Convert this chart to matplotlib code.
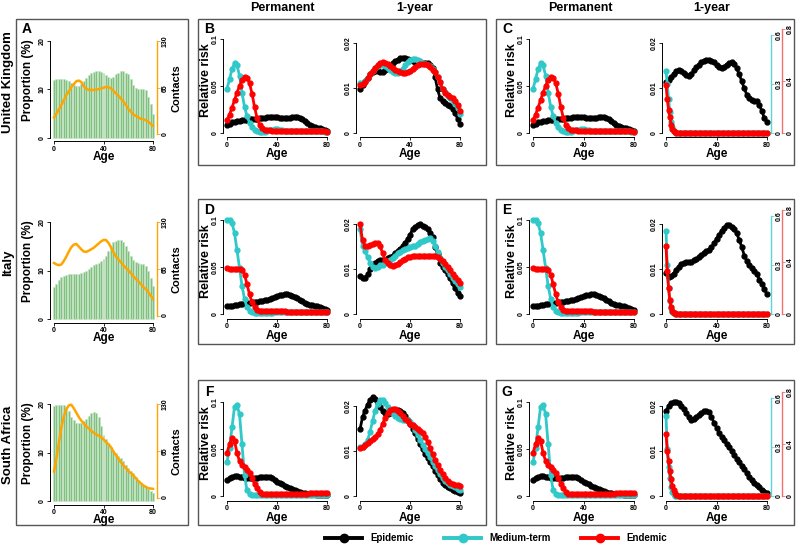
import matplotlib
matplotlib.use('Agg')
import matplotlib.pyplot as plt
from matplotlib.lines import Line2D
from matplotlib.patches import Rectangle

plt.rcParams['font.family'] = ['Liberation Sans', 'DejaVu Sans']

# ---- data ----
ages = list(range(0, 81, 2))
ages_fast = [0, 1, 2, 3, 4, 5, 6, 7, 8] + list(range(10, 81, 2))

countries = ['United Kingdom', 'Italy', 'South Africa']
columns = ['Permanent', '1-year', 'Permanent', '1-year']
series_names = ['Epidemic', 'Medium-term', 'Endemic']

# panel A: population proportion (%) and contacts
prop_uk = [12.0, 12.1, 12.1, 12.1, 12.1, 12.0, 11.7, 11.3, 11.0, 10.7, 10.8, 11.2, 11.7, 12.3, 12.9, 13.4, 13.7, 13.9, 13.9, 13.7,
           13.4, 13.0, 12.6, 12.4, 12.6, 13.1, 13.5, 13.8, 13.8, 13.5, 13.1, 12.2, 11.0, 10.3, 10.0, 10.0, 10.2, 9.9, 8.5, 7.0, 5.0]
prop_it = [6.6, 7.3, 8.0, 8.6, 8.9, 9.1, 9.2, 9.2, 9.2, 9.2, 9.2, 9.4, 9.6, 9.9, 10.3, 10.8, 11.1, 11.4, 11.6, 11.9,
           12.3, 13.0, 14.0, 15.0, 15.8, 16.1, 16.3, 16.2, 15.8, 15.0, 14.0, 13.0, 12.2, 11.8, 11.5, 11.4, 11.3, 11.0, 10.0, 8.5, 6.9]
prop_sa = [19.5, 19.7, 19.8, 19.8, 19.7, 19.3, 18.5, 17.4, 16.6, 16.1, 16.0, 16.1, 16.4, 16.9, 17.5, 18.1, 18.3, 18.1, 17.3, 15.5,
           13.6, 12.8, 11.9, 11.1, 10.4, 9.8, 9.3, 8.8, 8.2, 7.5, 6.8, 6.2, 5.7, 5.0, 4.4, 3.7, 3.3, 2.9, 2.5, 2.1, 1.7]
contacts_uk = [23.6, 29, 35, 41, 48, 55, 60, 66, 70, 74, 75, 73, 67, 64, 62, 62, 62, 62.5, 63, 64,
               65, 66, 66, 64, 61, 57, 54, 50, 46, 41, 36, 32, 28, 26, 24, 22, 21, 20, 18, 15, 12]
contacts_it = [73, 71, 70, 71, 76, 82, 89, 95, 98.5, 99.5, 96, 92, 89, 88.5, 90, 92, 94, 97, 100, 103,
               105, 105, 101, 95, 88, 82, 78, 74, 70, 66, 63, 59, 55, 51, 48, 44, 40, 37, 33, 28, 23]
contacts_sa = [36, 55, 77, 98, 113, 123, 128, 129, 124, 118, 112, 107, 103, 99, 96, 93, 90, 88, 86, 84,
               81, 77, 74, 70, 64, 59, 54, 49, 45, 41, 37, 34, 31, 27, 23, 20, 17, 15, 13, 12.5, 12]

# permanent immunity (same in B/C, D/E, F/G)
perm_uk_epi = [0.009, 0.010, 0.0115, 0.012, 0.0125, 0.013, 0.0135, 0.014, 0.014, 0.0145, 0.0145, 0.015, 0.015, 0.0155, 0.016, 0.016, 0.0165, 0.017, 0.017, 0.017,
               0.0165, 0.016, 0.016, 0.0155, 0.0155, 0.016, 0.0165, 0.0165, 0.0165, 0.016, 0.015, 0.013, 0.011, 0.009, 0.0075, 0.0065, 0.0058, 0.0052, 0.0045, 0.0035, 0.002]
perm_uk_med = [0.047, 0.057, 0.068, 0.074, 0.072, 0.061, 0.043, 0.028, 0.018, 0.011, 0.006, 0.003, 0.002, 0.0015, 0.0015, 0.0015, 0.002, 0.003, 0.0035, 0.004,
               0.004, 0.0035, 0.003, 0.0025, 0.002, 0.002, 0.002, 0.002, 0.002, 0.002, 0.002, 0.002, 0.002, 0.002, 0.002, 0.0018, 0.0018, 0.0017, 0.0016, 0.0015, 0.0015]
perm_uk_end = [0.0135, 0.0195, 0.027, 0.035, 0.043, 0.050, 0.056, 0.0595, 0.059, 0.053, 0.042, 0.028, 0.016, 0.009, 0.005, 0.0035, 0.003, 0.0028, 0.0026, 0.0025,
               0.0025, 0.0024, 0.0024, 0.0023, 0.0023, 0.0022, 0.0022, 0.0021, 0.0021, 0.002, 0.002, 0.002, 0.0019, 0.0019, 0.0018, 0.0018, 0.0017, 0.0017, 0.0016, 0.0016, 0.0015]
perm_it_epi = [0.008, 0.0085, 0.009, 0.0095, 0.010, 0.0105, 0.011, 0.0115, 0.012, 0.012, 0.0125, 0.013, 0.013, 0.0135, 0.014, 0.0145, 0.015, 0.016, 0.017, 0.018,
               0.019, 0.020, 0.0205, 0.021, 0.021, 0.0205, 0.0195, 0.0185, 0.017, 0.015, 0.0135, 0.012, 0.011, 0.010, 0.0095, 0.009, 0.008, 0.007, 0.006, 0.005, 0.004]
perm_it_med = [0.1, 0.1, 0.097, 0.086, 0.068, 0.049, 0.030, 0.016, 0.007, 0.0035, 0.002, 0.0015, 0.0013, 0.0012, 0.0012, 0.0012, 0.0013, 0.0014, 0.0015, 0.0016,
               0.0017, 0.0018, 0.0018, 0.0018, 0.0018, 0.0018, 0.0018, 0.0018, 0.0018, 0.0018, 0.0018, 0.0018, 0.0018, 0.0018, 0.0018, 0.0018, 0.0018, 0.0018, 0.0018, 0.0018, 0.0018]
perm_it_end = [0.049, 0.048, 0.0475, 0.0475, 0.048, 0.0475, 0.0467, 0.042, 0.0316, 0.021, 0.0123, 0.007, 0.0046, 0.0035, 0.003, 0.003, 0.003, 0.003, 0.003, 0.003,
               0.003, 0.0029, 0.0028, 0.0027, 0.0026, 0.0025, 0.0025, 0.0024, 0.0024, 0.0023, 0.0023, 0.0022, 0.0022, 0.0021, 0.0021, 0.002, 0.002, 0.002, 0.002, 0.002, 0.002]
perm_sa_epi = [0.017, 0.0188, 0.0205, 0.021, 0.021, 0.0205, 0.020, 0.019, 0.0188, 0.0188, 0.019, 0.0192, 0.0195, 0.0197, 0.020, 0.0202, 0.0205, 0.020, 0.0188, 0.017,
               0.015, 0.0136, 0.0123, 0.011, 0.0097, 0.0085, 0.0072, 0.0063, 0.0054, 0.0045, 0.0036, 0.003, 0.0025, 0.0021, 0.0018, 0.0016, 0.0015, 0.0013, 0.0012, 0.0011, 0.001]
perm_sa_med = [0.0357, 0.051, 0.073, 0.095, 0.097, 0.087, 0.055, 0.022, 0.006, 0.0018, 0.001, 0.001, 0.001, 0.001, 0.001, 0.001, 0.001, 0.001, 0.001, 0.001,
               0.001, 0.001, 0.0011, 0.0011, 0.0012, 0.0012, 0.0013, 0.0013, 0.0014, 0.0014, 0.0015, 0.0015, 0.0015, 0.0015, 0.0015, 0.0015, 0.0015, 0.0015, 0.0015, 0.0015, 0.0015]
perm_sa_end = [0.046, 0.055, 0.062, 0.0585, 0.046, 0.037, 0.033, 0.031, 0.028, 0.024, 0.019, 0.013, 0.008, 0.0043, 0.0025, 0.002, 0.002, 0.002, 0.002, 0.002,
               0.002, 0.002, 0.002, 0.0021, 0.0021, 0.0022, 0.0022, 0.0023, 0.0023, 0.0024, 0.0025, 0.0025, 0.0026, 0.0027, 0.0028, 0.0028, 0.0029, 0.003, 0.003, 0.003, 0.003]

# 1-year immunity (B, D, F)
yr_uk_epi = [0.0098, 0.0106, 0.0115, 0.0123, 0.013, 0.0135, 0.0138, 0.0137, 0.0135, 0.0136, 0.014, 0.0145, 0.015, 0.0155, 0.016, 0.0163, 0.0166, 0.0167, 0.0167, 0.0165,
             0.0162, 0.016, 0.0158, 0.0156, 0.0155, 0.0155, 0.0156, 0.0155, 0.0152, 0.0145, 0.0125, 0.0098, 0.0078, 0.007, 0.0066, 0.0063, 0.006, 0.0053, 0.0045, 0.0032, 0.002]
yr_uk_med = [0.0111, 0.0112, 0.0116, 0.0123, 0.013, 0.0138, 0.0145, 0.0149, 0.015, 0.015, 0.0148, 0.0144, 0.014, 0.0135, 0.0133, 0.0133, 0.0137, 0.0143, 0.015, 0.0157,
             0.0162, 0.0165, 0.0165, 0.0162, 0.016, 0.0156, 0.0153, 0.015, 0.0148, 0.0143, 0.0135, 0.0125, 0.0113, 0.0098, 0.009, 0.0083, 0.0078, 0.0072, 0.0065, 0.0055, 0.0042]
yr_uk_end = [0.0107, 0.0108, 0.0114, 0.0122, 0.013, 0.0138, 0.0145, 0.0151, 0.0155, 0.0157, 0.0156, 0.0153, 0.0149, 0.0144, 0.014, 0.0137, 0.0135, 0.0133, 0.0133, 0.0135,
             0.0138, 0.0142, 0.0147, 0.0151, 0.0154, 0.0154, 0.0153, 0.015, 0.0146, 0.0141, 0.0135, 0.0125, 0.0113, 0.0098, 0.0089, 0.0084, 0.0081, 0.0078, 0.0072, 0.0062, 0.0048]
yr_it_epi = [0.0085, 0.0079, 0.008, 0.0088, 0.0099, 0.0108, 0.0114, 0.0118, 0.0119, 0.012, 0.0121, 0.0124, 0.0127, 0.013, 0.0135, 0.014, 0.0145, 0.0151, 0.0158, 0.0167,
             0.0176, 0.0188, 0.0194, 0.0198, 0.02, 0.0196, 0.0193, 0.0188, 0.018, 0.0172, 0.015, 0.0133, 0.0114, 0.0105, 0.0098, 0.0088, 0.0079, 0.0068, 0.0057, 0.0047, 0.004]
yr_it_med = [0.0189, 0.0151, 0.014, 0.0127, 0.0114, 0.0104, 0.0103, 0.0105, 0.0108, 0.011, 0.0113, 0.0115, 0.012, 0.0125, 0.013, 0.0135, 0.0138, 0.0142, 0.0145, 0.0147,
             0.0149, 0.0151, 0.0152, 0.0156, 0.0159, 0.0163, 0.0165, 0.0167, 0.0168, 0.0163, 0.0151, 0.0138, 0.0125, 0.0114, 0.0105, 0.0098, 0.009, 0.0081, 0.0074, 0.0066, 0.0059]
yr_it_end = [0.02, 0.0164, 0.0151, 0.0151, 0.0153, 0.0156, 0.0158, 0.0157, 0.0151, 0.0136, 0.0121, 0.0113, 0.0108, 0.0107, 0.0108, 0.0112, 0.0115, 0.0119, 0.0123, 0.0126,
             0.0127, 0.0129, 0.0129, 0.0129, 0.0129, 0.0129, 0.0129, 0.0129, 0.013, 0.013, 0.0129, 0.0126, 0.0123, 0.0118, 0.0112, 0.0105, 0.0098, 0.009, 0.0083, 0.0076, 0.007]
yr_sa_epi = [0.0148, 0.0175, 0.019, 0.0203, 0.0214, 0.0219, 0.0216, 0.0207, 0.0197, 0.0189, 0.0185, 0.0183, 0.0184, 0.0186, 0.0189, 0.0191, 0.0189, 0.0184, 0.0178, 0.0169,
             0.016, 0.015, 0.0139, 0.0127, 0.0116, 0.0104, 0.0093, 0.0085, 0.0076, 0.0066, 0.0056, 0.0047, 0.0038, 0.003, 0.0025, 0.0021, 0.0018, 0.0014, 0.0011, 0.0009, 0.0007]
yr_sa_med = [0.011, 0.011, 0.0115, 0.0124, 0.0142, 0.0166, 0.0189, 0.0205, 0.0214, 0.0214, 0.0206, 0.0197, 0.019, 0.0184, 0.0178, 0.0174, 0.0171, 0.017, 0.0169, 0.0168,
             0.0165, 0.0158, 0.0146, 0.0135, 0.0125, 0.0114, 0.0104, 0.0095, 0.0086, 0.0076, 0.0066, 0.0057, 0.0048, 0.004, 0.0034, 0.0029, 0.0025, 0.0022, 0.0019, 0.0016, 0.0014]
yr_sa_end = [0.0106, 0.0108, 0.0114, 0.0118, 0.0122, 0.0126, 0.0131, 0.0137, 0.0146, 0.016, 0.0173, 0.0184, 0.0191, 0.0194, 0.0193, 0.019, 0.0185, 0.0178, 0.0171, 0.0166,
             0.0161, 0.0158, 0.0154, 0.015, 0.0145, 0.0139, 0.0131, 0.0121, 0.0107, 0.0093, 0.0081, 0.0068, 0.0058, 0.0048, 0.004, 0.0034, 0.003, 0.0027, 0.0025, 0.0024, 0.0023]

# 1-year immunity, second scenario (C, E, G): epidemic on left axis
yr2_uk_epi = [0.0114, 0.0118, 0.0124, 0.0132, 0.0137, 0.0139, 0.0138, 0.0134, 0.0128, 0.0127, 0.0131, 0.0139, 0.0146, 0.0152, 0.0157, 0.016, 0.0163, 0.0163, 0.0161, 0.0157,
              0.0152, 0.0147, 0.0144, 0.0147, 0.0152, 0.0156, 0.0157, 0.0153, 0.0144, 0.013, 0.0115, 0.0099, 0.0085, 0.0078, 0.0074, 0.0072, 0.007, 0.0062, 0.0048, 0.0033, 0.0024]
yr2_it_epi = [0.0092, 0.0082, 0.0084, 0.009, 0.0098, 0.0105, 0.0111, 0.0114, 0.0116, 0.0116, 0.0116, 0.0119, 0.0122, 0.0126, 0.0131, 0.0135, 0.0139, 0.0143, 0.0148, 0.0157,
              0.0167, 0.0176, 0.0185, 0.0192, 0.0198, 0.0197, 0.0194, 0.0188, 0.0179, 0.0165, 0.0149, 0.013, 0.0117, 0.0109, 0.0103, 0.0096, 0.0088, 0.0076, 0.0066, 0.0055, 0.0044]
yr2_sa_epi = [0.0189, 0.0199, 0.0206, 0.0209, 0.0209, 0.0206, 0.02, 0.0193, 0.0184, 0.0175, 0.017, 0.0171, 0.0175, 0.018, 0.0184, 0.0188, 0.0189, 0.0186, 0.0176, 0.0163,
              0.0152, 0.0141, 0.0132, 0.0124, 0.0116, 0.0108, 0.01, 0.0092, 0.0083, 0.0075, 0.0067, 0.0059, 0.0051, 0.0043, 0.0036, 0.003, 0.0024, 0.0019, 0.0014, 0.001, 0.0007]
# medium-term (right axis 0-0.6) and endemic (right axis 0-0.8), on ages_fast
yr2_uk_med = [0.38, 0.30, 0.21, 0.13, 0.07, 0.035, 0.015, 0.006, 0.002, 0.001, 0, 0, 0, 0, 0, 0, 0, 0, 0, 0, 0, 0, 0,
              0, 0, 0, 0, 0, 0, 0, 0, 0, 0, 0, 0, 0, 0, 0, 0, 0, 0, 0, 0, 0, 0]
yr2_uk_end = [0.37, 0.26, 0.18, 0.12, 0.065, 0.03, 0.012, 0.005, 0.002, 0.001, 0, 0, 0, 0, 0, 0, 0, 0, 0, 0, 0, 0, 0,
              0, 0, 0, 0, 0, 0, 0, 0, 0, 0, 0, 0, 0, 0, 0, 0, 0, 0, 0, 0, 0, 0]
yr2_it_med = [0.51, 0.30, 0.16, 0.08, 0.035, 0.015, 0.005, 0.002, 0.001, 0, 0, 0, 0, 0, 0, 0, 0, 0, 0, 0, 0, 0, 0,
              0, 0, 0, 0, 0, 0, 0, 0, 0, 0, 0, 0, 0, 0, 0, 0, 0, 0, 0, 0, 0, 0]
yr2_it_end = [0.52, 0.33, 0.20, 0.11, 0.055, 0.025, 0.01, 0.004, 0.001, 0, 0, 0, 0, 0, 0, 0, 0, 0, 0, 0, 0, 0, 0,
              0, 0, 0, 0, 0, 0, 0, 0, 0, 0, 0, 0, 0, 0, 0, 0, 0, 0, 0, 0, 0, 0]
yr2_sa_med = [0.49, 0.29, 0.18, 0.11, 0.057, 0.026, 0.01, 0.003, 0.001, 0, 0, 0, 0, 0, 0, 0, 0, 0, 0, 0, 0, 0, 0,
              0, 0, 0, 0, 0, 0, 0, 0, 0, 0, 0, 0, 0, 0, 0, 0, 0, 0, 0, 0, 0, 0]
yr2_sa_end = [0.48, 0.35, 0.27, 0.19, 0.13, 0.08, 0.045, 0.02, 0.008, 0.002, 0, 0, 0, 0, 0, 0, 0, 0, 0, 0, 0, 0, 0,
              0, 0, 0, 0, 0, 0, 0, 0, 0, 0, 0, 0, 0, 0, 0, 0, 0, 0, 0, 0, 0, 0]

prop = [prop_uk, prop_it, prop_sa]
contacts = [contacts_uk, contacts_it, contacts_sa]
perm = [(perm_uk_epi, perm_uk_med, perm_uk_end), (perm_it_epi, perm_it_med, perm_it_end), (perm_sa_epi, perm_sa_med, perm_sa_end)]
yr = [(yr_uk_epi, yr_uk_med, yr_uk_end), (yr_it_epi, yr_it_med, yr_it_end), (yr_sa_epi, yr_sa_med, yr_sa_end)]
yr2 = [(yr2_uk_epi, yr2_uk_med, yr2_uk_end), (yr2_it_epi, yr2_it_med, yr2_it_end), (yr2_sa_epi, yr2_sa_med, yr2_sa_end)]

# ---- styling ----
W, H = 796, 545
BLACK, CYAN, RED = 'black', '#30c8c8', '#ff0000'
COLORS = [BLACK, CYAN, RED]
GREEN, GREEN_EDGE, ORANGE = '#80c080', '#c6e4c4', '#ffa500'
ROW_DY = [0, 181, 363]

fig = plt.figure(figsize=(W / 100, H / 100), dpi=100)


def ftext(x, y, s, **kw):
    fig.text(x / W, 1 - y / H, s, ha='center', va='center', **kw)


def box(x1, y1, x2, y2):
    fig.add_artist(Rectangle((x1 / W, 1 - y2 / H), (x2 - x1) / W, (y2 - y1) / H, fill=False,
                             ec='#555555', lw=1.0, transform=fig.transFigure))


def add_panel(x0, x80, y0, yv, v, top, bottom):
    # x0/x80: pixel of age 0/80, y0/yv: pixel of value 0/v
    ppx = (x80 - x0) / 80.0
    left, right = x0 - 3.2 * ppx, x80 + 3.2 * ppx
    ppv = (y0 - yv) / v
    ax = fig.add_axes([left / W, 1 - bottom / H, (right - left) / W, (bottom - top) / H])
    ax.set_xlim(-3.2, 83.2)
    ax.set_ylim((y0 - bottom) / ppv, (y0 - top) / ppv)
    ax.patch.set_visible(False)
    return ax


def r_axes(ax, yticks, ylabels):
    ax.spines['top'].set_visible(False)
    ax.spines['right'].set_visible(False)
    ax.spines['left'].set_bounds(yticks[0], yticks[-1])
    ax.spines['bottom'].set_bounds(0, 80)
    for s in ('left', 'bottom'):
        ax.spines[s].set_linewidth(0.7)
    ax.set_xticks([0, 40, 80])
    ax.set_xticklabels(['0', '40', '80'])
    ax.set_yticks(yticks)
    ax.set_yticklabels(ylabels, rotation=90, va='center')
    ax.tick_params(length=2, width=0.6, pad=1.0, labelsize=5)
    for t in ax.get_xticklabels() + ax.get_yticklabels():
        t.set_fontweight('bold')


def side_axes(ax, yticks, ylabels, color, offset):
    for s in ('top', 'left', 'bottom'):
        ax.spines[s].set_visible(False)
    sp = ax.spines['right']
    sp.set_position(('outward', offset))
    sp.set_bounds(yticks[0], yticks[-1])
    sp.set_color(color)
    sp.set_linewidth(1.0)
    ax.set_xticks([])
    ax.yaxis.tick_right()
    ax.set_yticks(yticks)
    ax.set_yticklabels(ylabels, rotation=90, va='center')
    ax.tick_params(axis='y', length=2, width=0.6, pad=1.2, labelsize=5, color=color)
    for t in ax.get_yticklabels():
        t.set_fontweight('bold')


def curve(ax, x, y, c):
    ax.plot(x, y, '-o', color=c, lw=2.0, ms=3.5, mec=c, clip_on=False)


# frames
box(16, 19, 188, 525)
for top, bot in [(19, 165), (199, 344), (380, 525)]:
    box(198, top, 486, bot)
    box(496, top, 794, bot)

# column titles
for x, s in zip([282, 415, 580, 712], columns):
    ftext(x, 8, s, fontsize=9, fontweight='bold')

letters = [('B', 'C'), ('D', 'E'), ('F', 'G')]
ftext(27, 29, 'A', fontsize=10, fontweight='bold')

for r in range(3):
    dy = ROW_DY[r]
    ftext(8, 82 + dy, countries[r], fontsize=9.5, fontweight='bold', rotation=90)

    # panel A: age structure and contacts
    ax = add_panel(54, 153, 138 + dy, 41 + dy, 20, 22 + dy, 141.5 + dy)
    ax.bar(ages, prop[r], width=1.6, color=GREEN, edgecolor=GREEN_EDGE, linewidth=0.4)
    r_axes(ax, [0, 10, 20], ['0', '10', '20'])
    axc = add_panel(54, 153, 134.5 + dy, 41 + dy, 130, 22 + dy, 141.5 + dy)
    axc.plot(ages, contacts[r], color=ORANGE, lw=1.8)
    side_axes(axc, [0, 65, 130], ['0', '65', '130'], ORANGE, 0)
    ftext(103.5, 157.5 + dy, 'Age', fontsize=8.5, fontweight='bold')
    ftext(28, 80 + dy, 'Proportion (%)', fontsize=8.5, fontweight='bold', rotation=90)
    ftext(176.5, 88 + dy, 'Contacts', fontsize=8, fontweight='bold', rotation=90)

    # permanent panels (left part of B and C)
    for (x0, x80, ylab_x, lx), letter in zip([(227, 327, 206, 209), (533, 634, 512, 507)], letters[r]):
        ax = add_panel(x0, x80, 133 + dy, 39 + dy, 0.1, 22 + dy, 137.5 + dy)
        for vals, c in zip(perm[r], COLORS):
            curve(ax, ages, vals, c)
        r_axes(ax, [0, 0.05, 0.1], ['0', '0.05', '0.1'])
        ftext((x0 + x80) / 2, 154.5 + dy, 'Age', fontsize=8.5, fontweight='bold')
        ftext(ylab_x, 80 + dy, 'Relative risk', fontsize=9, fontweight='bold', rotation=90)
        ftext(lx, 29 + dy, letter, fontsize=10, fontweight='bold')

    # 1-year panel, left box
    ax = add_panel(360, 460, 133 + dy, 43 + dy, 0.02, 22 + dy, 137.5 + dy)
    for vals, c in zip(yr[r], COLORS):
        curve(ax, ages, vals, c)
    r_axes(ax, [0, 0.01, 0.02], ['0', '0.01', '0.02'])
    ftext(410, 154.5 + dy, 'Age', fontsize=8.5, fontweight='bold')

    # 1-year panel, right box with own scales
    ax = add_panel(666, 767, 133 + dy, 43 + dy, 0.02, 22 + dy, 137.5 + dy)
    curve(ax, ages, yr2[r][0], BLACK)
    r_axes(ax, [0, 0.01, 0.02], ['0', '0.01', '0.02'])
    axm = add_panel(666, 767, 133 + dy, 35 + dy, 0.6, 22 + dy, 137.5 + dy)
    curve(axm, ages_fast, yr2[r][1], CYAN)
    side_axes(axm, [0, 0.3, 0.6], ['0', '0.3', '0.6'], '#5fd3d3', 0)
    axe = add_panel(666, 767, 133 + dy, 29 + dy, 0.8, 22 + dy, 137.5 + dy)
    curve(axe, ages_fast, yr2[r][2], RED)
    side_axes(axe, [0, 0.4, 0.8], ['0', '0.4', '0.8'], '#f07070', 7.9)
    ftext(716.5, 154.5 + dy, 'Age', fontsize=8.5, fontweight='bold')

handles = [Line2D([], [], color=c, marker='o', lw=2.8, ms=6) for c in COLORS]
fig.legend(handles, series_names, loc='center', bbox_to_anchor=(496 / W, 1 - 538 / H), ncol=3,
           frameon=False, handlelength=3.8, handletextpad=0.8, columnspacing=3.2, numpoints=1,
           prop=dict(weight='bold', size=7))

fig.savefig('out.png', dpi=100)
